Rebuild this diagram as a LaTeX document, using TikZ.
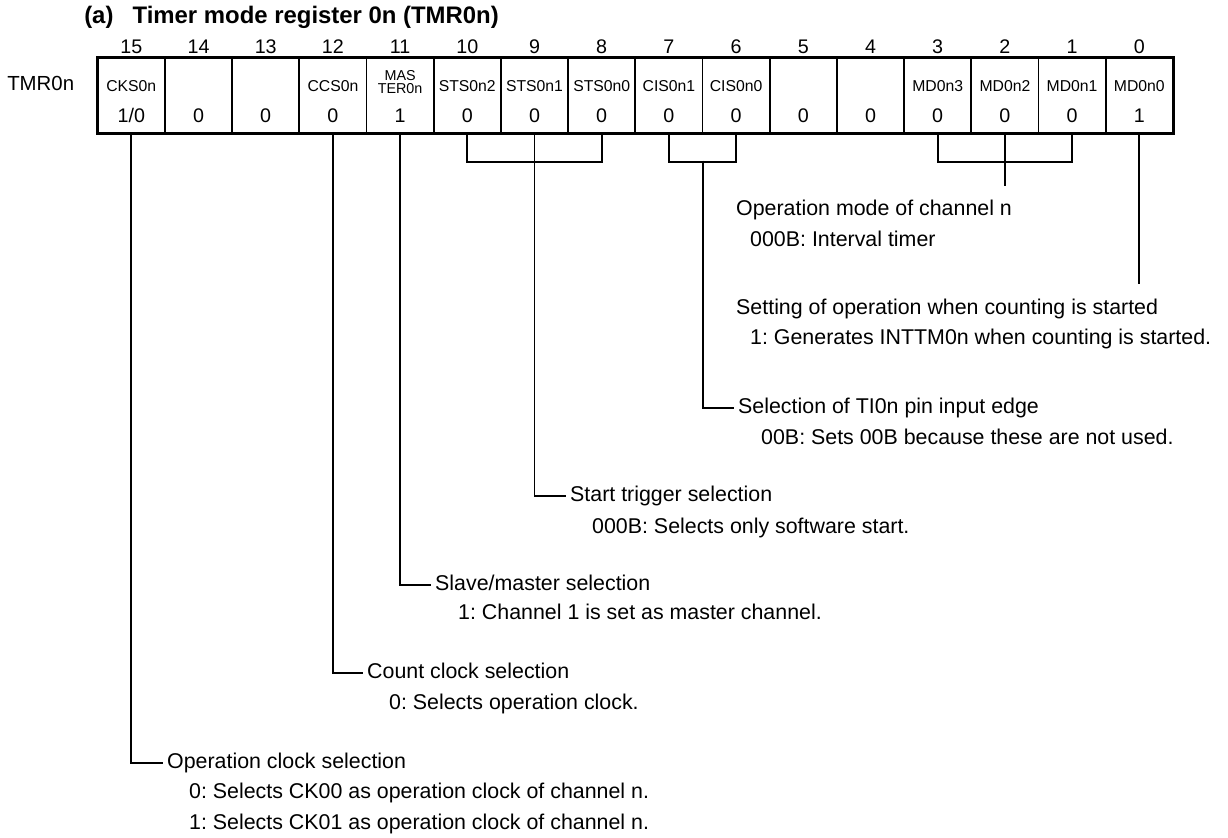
\documentclass[tikz,border=0pt]{standalone}
\usepackage{fontspec}
\setmainfont{Liberation Sans}
\usetikzlibrary{positioning}
\frenchspacing

\begin{document}
\begin{tikzpicture}[x=0.025cm,y=-0.025cm,font=\fontsize{15.2}{18}\selectfont,
  cell/.style={draw,line width=1.2pt,minimum width=1.68cm,minimum height=1.875cm,inner sep=0pt},
  bitno/.style={font=\fontsize{14}{16}\selectfont,text height=10pt,text depth=0pt},
  fldname/.style={font=\fontsize{11.2}{13}\selectfont,text height=8pt,text depth=0pt},
  fldval/.style={font=\fontsize{14}{16}\selectfont,text height=10pt,text depth=0pt},
  sel/.style={anchor=west,inner xsep=2.8pt,inner ysep=0pt,text height=11pt,text depth=3.2pt},
  wire/.style={line width=1.4pt}]
\useasboundingbox (0,0) rectangle (1228,837);

\node[font=\bfseries\fontsize{17}{20}\selectfont,anchor=west,inner sep=0pt] (title) at (84,17) {(a)\hspace{0.8em}Timer mode register 0n (TMR0n)};
\node[font=\fontsize{14.5}{16}\selectfont,anchor=west,inner sep=0pt] (regname) at (7,83) {TMR0n};

% register bits
\foreach \b/\nm/\val [count=\i from 0] in {15/CKS0n/{1/0},14//0,13//0,12/CCS0n/0,11//1,10/STS0n2/0,9/STS0n1/0,8/STS0n0/0,7/CIS0n1/0,6/CIS0n0/0,5//0,4//0,3/MD0n3/0,2/MD0n2/0,1/MD0n1/0,0/MD0n0/1}{
  \node[cell] (c\b) at (131.3+67.2*\i,95.8) {};
  \node[bitno] (n\b) at (c\b |- 0,46) {\b};
  \node[fldname] (f\b) at (c\b |- 0,86) {\nm};
  \node[fldval] (v\b) at (c\b |- 0,115) {\val};
}
\node[align=center,font=\fontsize{10.2}{9.6}\selectfont] (mas) at (c11 |- 0,82) {MAS\\TER0n};
\draw[line width=1.9pt] (c15.north west) rectangle (c0.south east);

% descriptions
\node[sel] (mdSel) at (732,210) {Operation mode of channel n};
\node[sel] (mdDesc) at (746,241) {000B: Interval timer};
\node[sel] (stSel) at (732,309) {Setting of operation when counting is started};
\node[sel] (stDesc) at (746,339) {1: Generates INTTM0n when counting is started.};
\node[sel] (cisSel) at (734,408) {Selection of TI0n pin input edge};
\node[sel] (cisDesc) at (757,439) {00B: Sets 00B because these are not used.};
\node[sel] (stsSel) at (566,496) {Start trigger selection};
\node[sel] (stsDesc) at (588,528) {000B: Selects only software start.};
\node[sel] (masSel) at (431,585) {Slave/master selection};
\node[sel] (masDesc) at (454,614) {1: Channel 1 is set as master channel.};
\node[sel] (ccsSel) at (363,673) {Count clock selection};
\node[sel] (ccsDesc) at (385,704) {0: Selects operation clock.};
\node[sel] (cksSel) at (163,763) {Operation clock selection};
\node[sel] (cksDesc0) at (185,793) {0: Selects CK00 as operation clock of channel n.};
\node[sel] (cksDesc1) at (185,824) {1: Selects CK01 as operation clock of channel n.};

% connectors
\coordinate (mdEnd) at (c2 |- 0,186);
\coordinate (st0End) at (c0 |- 0,284);
\coordinate (cisMid) at (c7.south east |- 0,160.7);
\draw[wire] (c3.south) -- ++(0,27.4) -| (c1.south);
\draw[wire] (c2.south) -- (mdEnd);
\draw[wire] (c0.south) -- (st0End);
\draw[wire] (c7.south) -- ++(0,27.4) -| (c6.south);
\draw[wire] (cisMid) |- (cisSel.west);
\draw[wire] (c10.south) -- ++(0,27.4) -| (c8.south);
\draw[wire] (c9.south) |- (stsSel.west);
\draw[wire] (c11.south) |- (masSel.west);
\draw[wire] (c12.south) |- (ccsSel.west);
\draw[wire] (c15.south) |- (cksSel.west);
\end{tikzpicture}
\end{document}
